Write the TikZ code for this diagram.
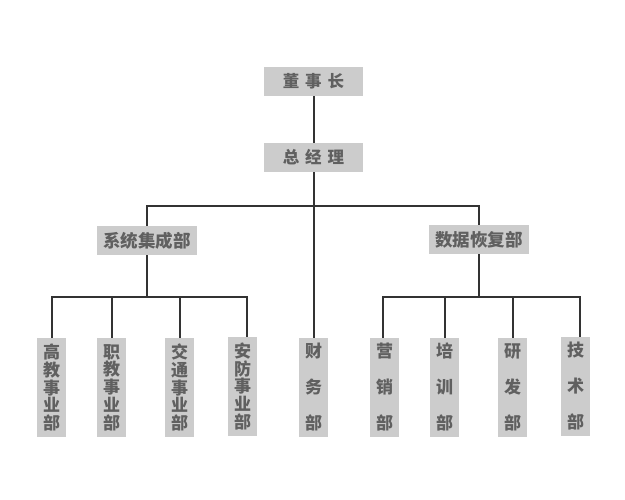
\documentclass[tikz,border=0pt]{standalone}
\usepackage{fontspec}
\setmainfont{Noto Sans CJK SC}
\definecolor{boxgray}{HTML}{CCCCCC}
\definecolor{txtgray}{HTML}{606060}
\definecolor{linegray}{HTML}{333333}
\tikzset{
  hbox/.style={fill=boxgray, text=txtgray, inner sep=0pt, minimum width=99pt, minimum height=29pt, font=\fontsize{16.5}{16.5}\selectfont\bfseries},
  vbox/.style={fill=boxgray, text=txtgray, inner sep=0pt, minimum width=29pt, minimum height=99pt, align=center, font=\fontsize{17}{17.8}\selectfont\bfseries},
  vboxw/.style={vbox, font=\fontsize{17}{36}\selectfont\bfseries},
  conn/.style={draw=linegray, line width=2pt}
}
\begin{document}
\begin{tikzpicture}[x=1pt, y=-1pt]
\useasboundingbox (0,0) rectangle (625,500);
\fill[white] (0,0) rectangle (625,500);
% top
\node[hbox] (dsz) at (313.5,81.5) {董\hspace{6pt}事\hspace{6pt}长};
\node[hbox] (zjl) at (313.5,157.5) {总\hspace{6pt}经\hspace{6pt}理};
% middle
\node[hbox, minimum width=100pt, font=\fontsize{17.5}{17.5}\selectfont\bfseries] (xt) at (147,240.5) {系统集成部};
\node[hbox, minimum width=100pt, font=\fontsize{17.5}{17.5}\selectfont\bfseries] (sj) at (479,239.5) {数据恢复部};
% bottom
\node[vbox] (gj) at (51.5,387.5) {高\\教\\事\\业\\部};
\node[vbox] (zj) at (111.5,387.5) {职\\教\\事\\业\\部};
\node[vbox] (jt) at (179.5,387.5) {交\\通\\事\\业\\部};
\node[vbox] (af) at (242.5,386.5) {安\\防\\事\\业\\部};
\node[vboxw] (cw) at (313.5,387.5) {财\\务\\部};
\node[vboxw] (yx) at (384.5,387.5) {营\\销\\部};
\node[vboxw] (px) at (444.5,387.5) {培\\训\\部};
\node[vboxw] (yf) at (512.5,387.5) {研\\发\\部};
\node[vboxw] (js) at (575.5,386.5) {技\\术\\部};
% connectors
\draw[conn] (dsz.south) -- (zjl.north);
\draw[conn] (zjl.south) -- (cw.north);
\draw[conn] (zjl.south) -- ++(0,34) -| (xt.north);
\draw[conn] (zjl.south) -- ++(0,34) -| (sj.north);
\draw[conn] (xt.south) -- ++(0,42) -| (gj.north);
\draw[conn] (xt.south) -- ++(0,42) -| (zj.north);
\draw[conn] (xt.south) -- ++(0,42) -| (jt.north);
\draw[conn] (xt.south) -- ++(0,42) -| ([xshift=4.5pt]af.north);
\draw[conn] (sj.south) -- ++(0,43) -| ([xshift=-1.5pt]yx.north);
\draw[conn] (sj.south) -- ++(0,43) -| (px.north);
\draw[conn] (sj.south) -- ++(0,43) -| (yf.north);
\draw[conn] (sj.south) -- ++(0,43) -| ([xshift=4.5pt]js.north);
\end{tikzpicture}
\end{document}
